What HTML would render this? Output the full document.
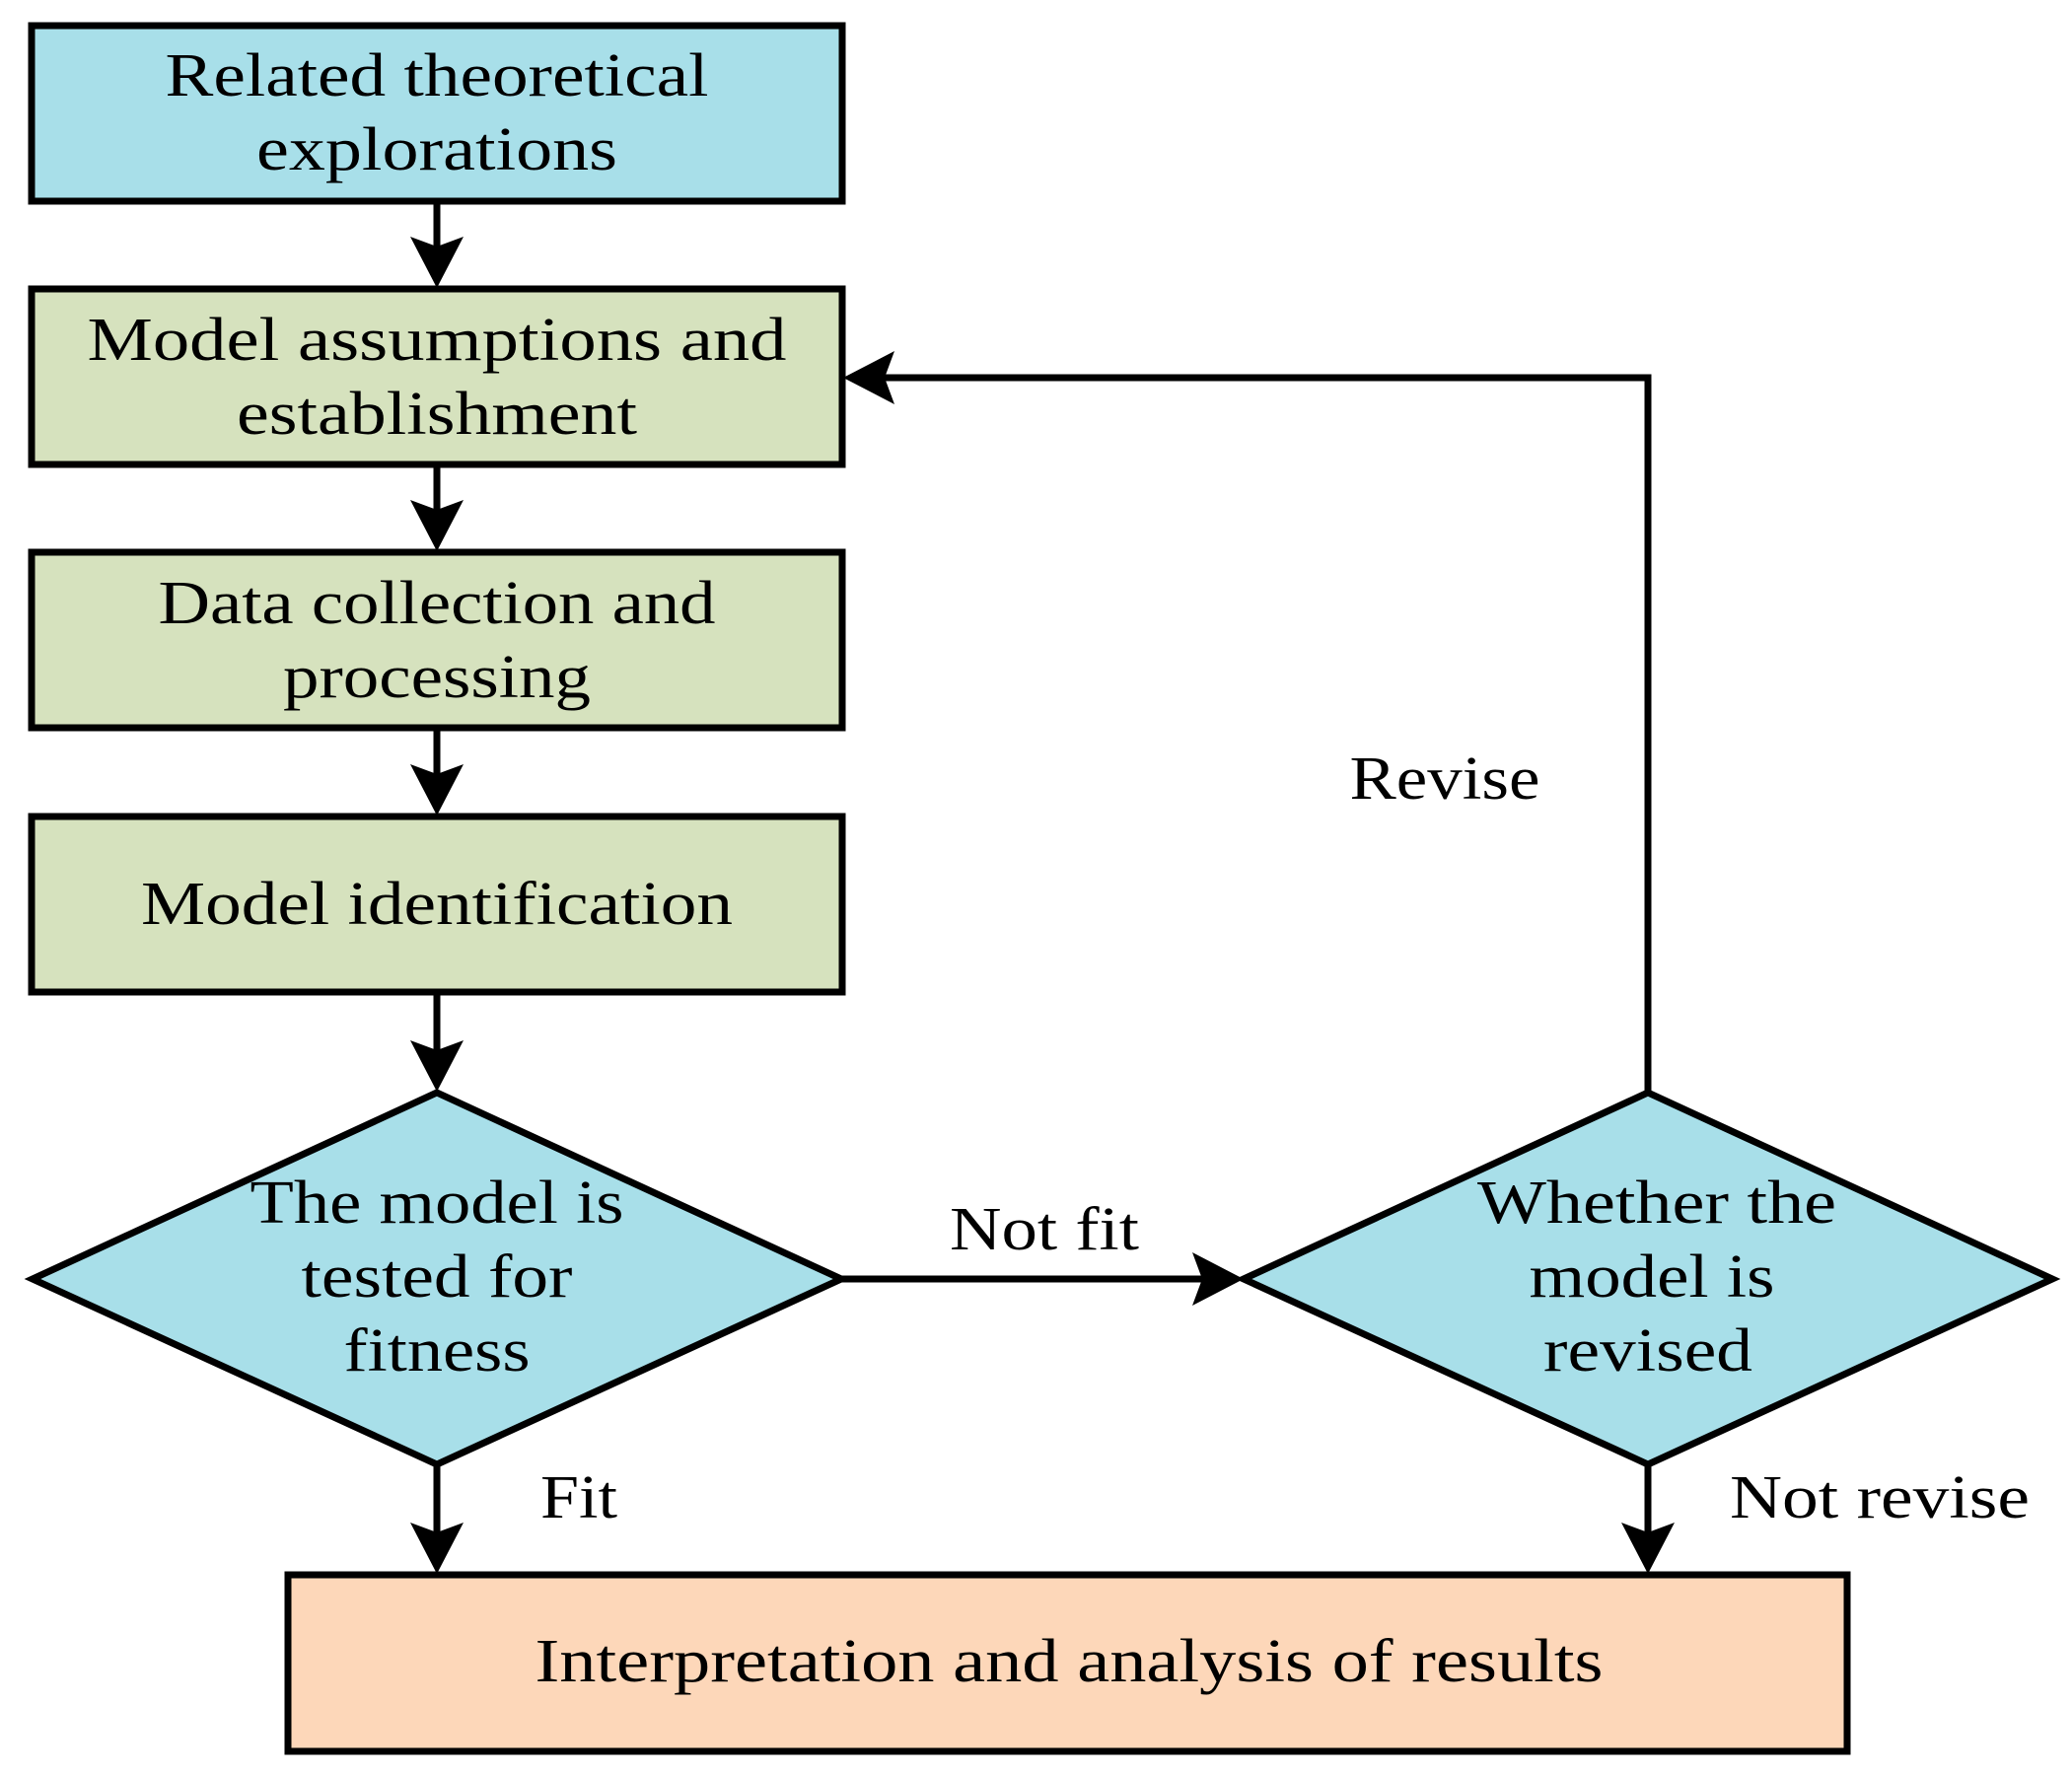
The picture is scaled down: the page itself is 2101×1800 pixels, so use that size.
<!DOCTYPE html>
<html><head><style>
html,body{margin:0;padding:0;background:#fff;}
svg{display:block;}
text{font-family:"Liberation Serif",serif;font-size:62px;fill:#000;text-anchor:middle;}
</style></head><body>
<svg width="2101" height="1800" viewBox="0 0 2101 1800">
<g stroke="#000" stroke-width="7">
<rect x="32" y="26" width="822" height="178" fill="#a8dfe9"/>
<rect x="32" y="293" width="822" height="178" fill="#d6e2be"/>
<rect x="32" y="560" width="822" height="178" fill="#d6e2be"/>
<rect x="32" y="828" width="822" height="178" fill="#d6e2be"/>
<polygon points="443,1108 853,1297 443,1485 33,1297" fill="#a8dfe9"/>
<polygon points="1671,1108 2081,1297 1671,1485 1261,1297" fill="#a8dfe9"/>
<rect x="292" y="1597" width="1581" height="179" fill="#fdd7b9"/>
<line x1="443" y1="204" x2="443" y2="260"/>
<line x1="443" y1="471" x2="443" y2="527"/>
<line x1="443" y1="738" x2="443" y2="795"/>
<line x1="443" y1="1006" x2="443" y2="1075"/>
<line x1="443" y1="1485" x2="443" y2="1564"/>
<line x1="1671" y1="1485" x2="1671" y2="1564"/>
<line x1="853" y1="1297" x2="1228" y2="1297"/>
<polyline points="1671,1108 1671,383 887,383" fill="none"/>
</g>
<g fill="#000">
<polygon points="416,240 443,250 470,240 443,292"/>
<polygon points="416,507 443,517 470,507 443,559"/>
<polygon points="416,775 443,785 470,775 443,827"/>
<polygon points="416,1055 443,1065 470,1055 443,1107"/>
<polygon points="416,1544 443,1554 470,1544 443,1596"/>
<polygon points="1644,1544 1671,1554 1698,1544 1671,1596"/>
<polygon points="1209,1270 1219,1297 1209,1324 1261,1297"/>
<polygon points="907,356 897,383 907,410 855,383"/>
</g>
<text x="443" y="97" textLength="551" lengthAdjust="spacingAndGlyphs">Related theoretical</text>
<text x="443" y="172" textLength="366" lengthAdjust="spacingAndGlyphs">explorations</text>
<text x="443" y="365" textLength="709" lengthAdjust="spacingAndGlyphs">Model assumptions and</text>
<text x="443" y="440" textLength="406" lengthAdjust="spacingAndGlyphs">establishment</text>
<text x="443" y="632" textLength="565" lengthAdjust="spacingAndGlyphs">Data collection and</text>
<text x="443" y="707" textLength="312" lengthAdjust="spacingAndGlyphs">processing</text>
<text x="443" y="937" textLength="600" lengthAdjust="spacingAndGlyphs">Model identification</text>
<text x="443" y="1240" textLength="379" lengthAdjust="spacingAndGlyphs">The model is</text>
<text x="443" y="1315" textLength="275" lengthAdjust="spacingAndGlyphs">tested for</text>
<text x="443" y="1390" textLength="189" lengthAdjust="spacingAndGlyphs">fitness</text>
<text x="1680" y="1240" textLength="364" lengthAdjust="spacingAndGlyphs">Whether the</text>
<text x="1675" y="1315" textLength="249" lengthAdjust="spacingAndGlyphs">model is</text>
<text x="1671" y="1390" textLength="212" lengthAdjust="spacingAndGlyphs">revised</text>
<text x="1084" y="1705" textLength="1083" lengthAdjust="spacingAndGlyphs">Interpretation and analysis of results</text>
<text x="1059" y="1267" textLength="192" lengthAdjust="spacingAndGlyphs">Not fit</text>
<text x="587" y="1539" textLength="78" lengthAdjust="spacingAndGlyphs">Fit</text>
<text x="1906" y="1539" textLength="304" lengthAdjust="spacingAndGlyphs">Not revise</text>
<text x="1465" y="810" textLength="193" lengthAdjust="spacingAndGlyphs">Revise</text>
</svg>
</body></html>
